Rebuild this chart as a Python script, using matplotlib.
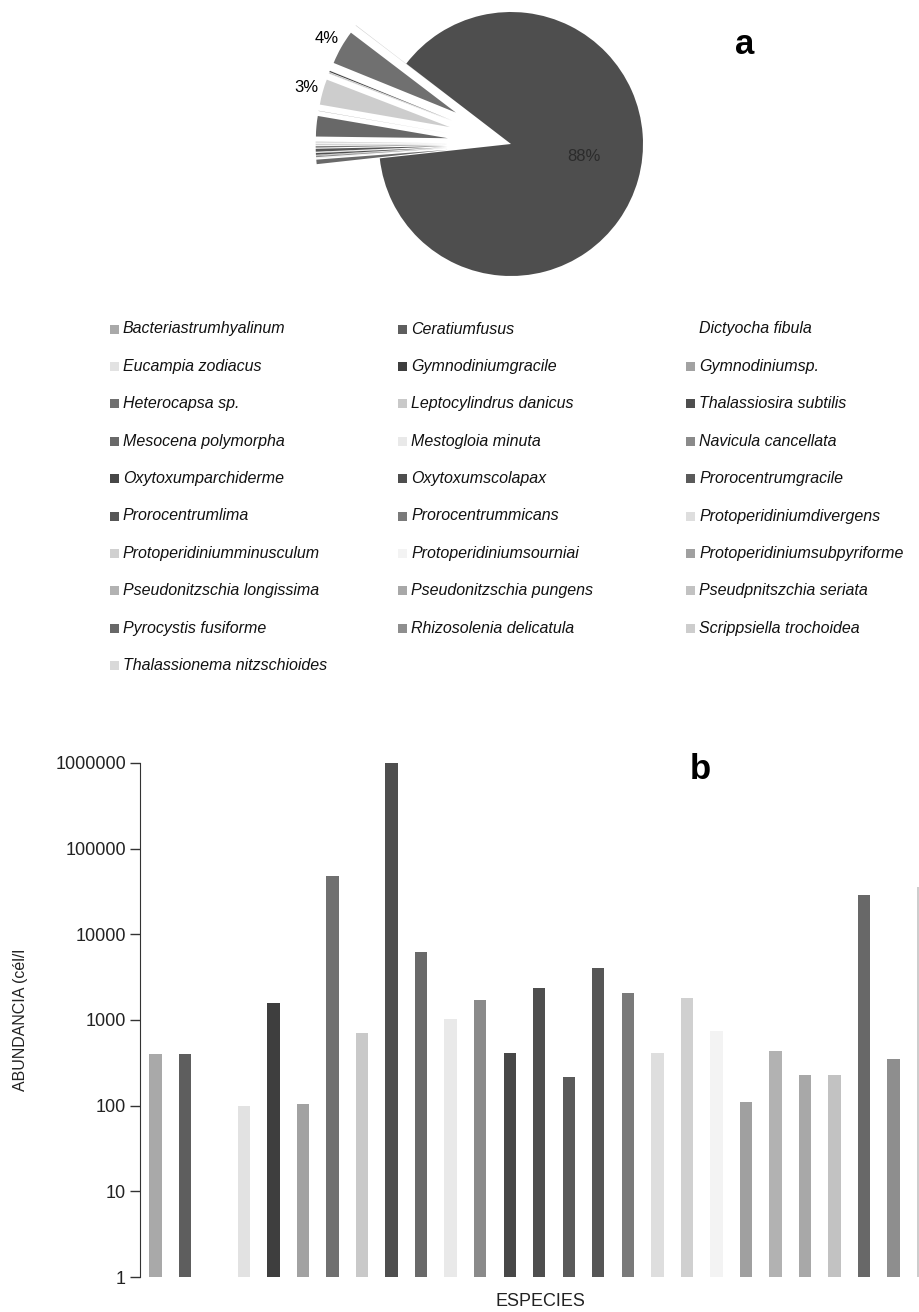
import numpy as np
import matplotlib.pyplot as plt
from matplotlib.patches import Rectangle

plt.rcParams['font.family'] = ['Liberation Sans', 'DejaVu Sans']

species = ["Bacteriastrumhyalinum", "Ceratiumfusus", "Dictyocha fibula",
           "Eucampia zodiacus", "Gymnodiniumgracile", "Gymnodiniumsp.",
           "Heterocapsa sp.", "Leptocylindrus danicus", "Thalassiosira subtilis",
           "Mesocena polymorpha", "Mestogloia minuta", "Navicula cancellata",
           "Oxytoxumparchiderme", "Oxytoxumscolapax", "Prorocentrumgracile",
           "Prorocentrumlima", "Prorocentrummicans", "Protoperidiniumdivergens",
           "Protoperidiniumminusculum", "Protoperidiniumsourniai",
           "Protoperidiniumsubpyriforme", "Pseudonitzschia longissima",
           "Pseudonitzschia pungens", "Pseudpnitszchia seriata",
           "Pyrocystis fusiforme", "Rhizosolenia delicatula",
           "Scrippsiella trochoidea", "Thalassionema nitzschioides"]

# abundance (cel/l)
abund = [400, 400, 200, 100, 1600, 104, 48000, 700, 1000000,
         6200, 1030, 1700, 410, 2340, 217, 4100, 2090, 407,
         1830, 740, 111, 437, 226, 226, 28400, 347, 35600, 400]

colors = ["#a9a9a9", "#5e5e5e", "#ffffff", "#e2e2e2", "#3e3e3e", "#a2a2a2",
          "#707070", "#c9c9c9", "#4e4e4e", "#696969", "#e9e9e9", "#8a8a8a",
          "#474747", "#4e4e4e", "#5a5a5a", "#565656", "#7a7a7a", "#dedede",
          "#d0d0d0", "#f3f3f3", "#a0a0a0", "#b2b2b2", "#a8a8a8", "#c2c2c2",
          "#686868", "#8e8e8e", "#cdcdcd", "#d9d9d9"]

ytick_vals = [1, 10, 100, 1000, 10000, 100000, 1000000]

W, H = 919, 1312
fig = plt.figure(figsize=(W / 100, H / 100), dpi=100)


def box(x0, y0, x1, y1):
    return [x0 / W, 1 - y1 / H, (x1 - x0) / W, (y1 - y0) / H]


# ---- a: pie ----
vals = np.array(abund, dtype=float)
frac = vals / vals.sum()
big = int(np.argmax(vals))
explode = [0 if i == big else 0.48 for i in range(len(vals))]
start = 142.5 + 360 * frac[:big].sum()

axp = fig.add_axes(box(311, 4, 711, 284))
wedges, _ = axp.pie(vals, colors=colors, explode=explode, startangle=start,
                    counterclock=False, radius=1,
                    wedgeprops=dict(linewidth=0))
axp.set_xlim(-200 / 132, 200 / 132)
axp.set_ylim(-140 / 132, 140 / 132)
axp.set_aspect('equal')
axp.axis('off')

for i, w in enumerate(wedges):
    pct = frac[i] * 100
    if pct < 3:
        continue
    mid = np.deg2rad((w.theta1 + w.theta2) / 2)
    cx, cy = w.center
    if i == big:
        d, col = 0.56, '#2b2b2b'
        mid = mid + np.deg2rad(6)
    else:
        d, col = 1.13, 'black'
    axp.text(cx + d * np.cos(mid), cy + d * np.sin(mid), f"{pct:.0f}%",
             ha='center', va='center', fontsize=12, color=col)

fig.text(745 / W, 1 - 45 / H, 'a', fontsize=25, weight='bold',
         ha='center', va='center')

# ---- legend (3 columns, row by row) ----
col_x = [110, 398, 686]
for i, name in enumerate(species):
    r, c = divmod(i, 3)
    yc = 329 + 37.4 * r
    x0 = col_x[c]
    fig.patches.append(Rectangle((x0 / W, 1 - (yc + 4.5) / H), 9 / W, 9 / H,
                                 transform=fig.transFigure,
                                 facecolor=colors[i], edgecolor='none'))
    fig.text((x0 + 13) / W, 1 - yc / H, name, va='center', ha='left',
             fontsize=11.5, style='italic', color='#111111')

# ---- b: bars (log) ----
ax = fig.add_axes(box(140, 763, 968, 1277))
x = np.arange(len(abund))
ax.set_yscale('log')
ax.bar(x, abund, width=0.42, color=colors, linewidth=0)
ax.set_ylim(1, 1000000)
ax.set_xlim(-0.525, -0.525 + 828 / 29.52)
ax.set_yticks(ytick_vals)
ax.set_yticklabels([str(v) for v in ytick_vals])
ax.yaxis.set_minor_locator(plt.NullLocator())
ax.set_xticks([])
for s in ['top', 'right', 'bottom']:
    ax.spines[s].set_visible(False)
ax.spines['left'].set_color('#333333')
ax.tick_params(axis='y', direction='out', length=7, width=1,
               color='#333333', labelsize=13, labelcolor='#222222', pad=3)
ax.set_ylabel('ABUNDANCIA (cél/l', fontsize=11.5, color='#222222')
ax.yaxis.set_label_coords((28 - 140) / 828, 0.5)
ax.set_xlabel('ESPECIES', fontsize=13, color='#222222')
ax.xaxis.set_label_coords((540 - 140) / 828, (1277 - 1301) / 514)
ax.xaxis.label.set_va('center')

fig.text(700 / W, 1 - 769 / H, 'b', fontsize=25, weight='bold',
         ha='center', va='center')

fig.savefig('out.png', dpi=100)
